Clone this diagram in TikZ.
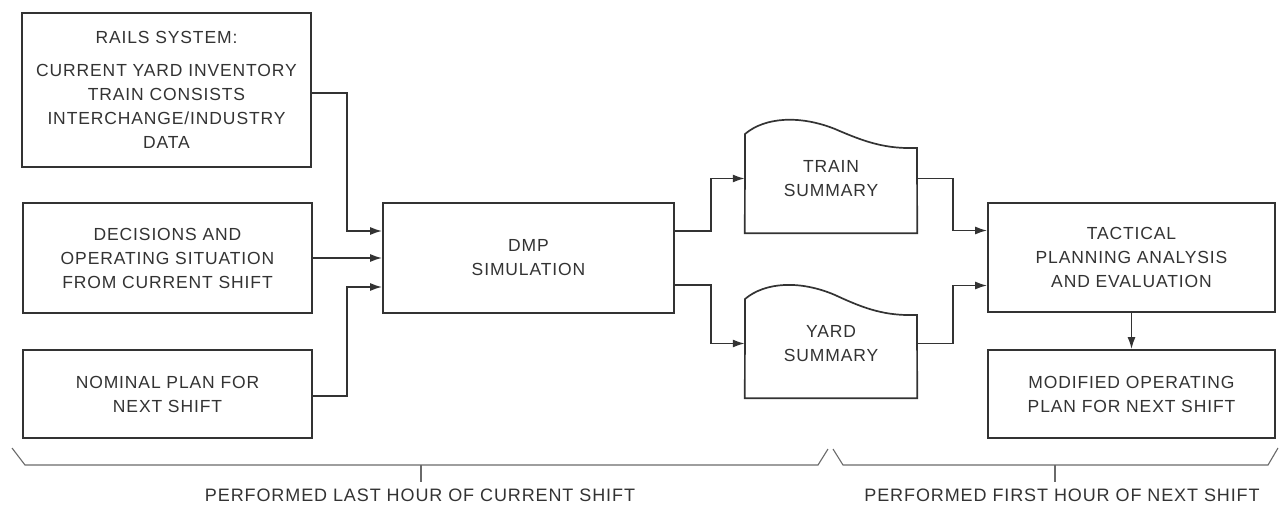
\documentclass[tikz,border=0pt]{standalone}
\usepackage{fontspec}
\setmainfont{Liberation Sans}[LetterSpace=5]
\usetikzlibrary{arrows.meta,calc}
\definecolor{ink}{HTML}{333333}
\definecolor{brace}{HTML}{6A6A6A}
\begin{document}
\begin{tikzpicture}[x=1pt,y=-1pt,
  lbl/.style={text=ink,font=\fontsize{17.5}{24}\selectfont,align=center},
  box/.style={lbl,draw=ink,line width=1.7pt,inner sep=0pt},
  doc/.style={lbl,inner sep=0pt,minimum width=172pt,minimum height=109pt},
  conn/.style={draw=ink,line width=1.7pt},
  arr/.style={conn,-{Latex[length=12pt,width=8pt]}},
  bracel/.style={draw=brace,line width=1.1pt},
  foot/.style={text=ink,font=\fontsize{18}{20}\selectfont}]
\useasboundingbox (0,0) rectangle (1281,504);
\fill[white] (0,0) rectangle (1281,504);

% left inputs
\node[box,minimum width=289pt,minimum height=154pt] (A) at (166.5,90)
  {RAILS SYSTEM:\\[9pt] CURRENT YARD INVENTORY\\ TRAIN CONSISTS\\ INTERCHANGE/INDUSTRY\\ DATA};
\node[box,minimum width=289pt,minimum height=110pt] (B) at (167.5,258)
  {DECISIONS AND\\ OPERATING SITUATION\\ FROM CURRENT SHIFT};
\node[box,minimum width=289pt,minimum height=88pt] (C) at (167.5,394)
  {NOMINAL PLAN FOR\\ NEXT SHIFT};

% simulation
\node[box,minimum width=291pt,minimum height=110pt] (D) at (528.5,258)
  {DMP\\ SIMULATION};

% summaries (document shapes)
\node[doc] (T) at (831,178.5) {TRAIN\\ SUMMARY};
\node[doc] (Y) at (831,343.5) {YARD\\ SUMMARY};
\draw[conn,line join=miter] (T.south west) -- (745,134)
  .. controls (765,117) and (800,115) .. (835,129)
  .. controls (865,142) and (885,149) .. (917,148) -- (T.south east) -- cycle;
\draw[conn,line join=miter] (Y.south west) -- (745,299)
  .. controls (765,282) and (800,280) .. (835,295)
  .. controls (865,309) and (885,316) .. (917,315) -- (Y.south east) -- cycle;

% right side
\node[box,minimum width=287pt,minimum height=109pt] (P) at (1131.5,257.5)
  {TACTICAL\\ PLANNING ANALYSIS\\ AND EVALUATION};
\node[box,minimum width=287pt,minimum height=88pt] (M) at (1131.5,394)
  {MODIFIED OPERATING\\ PLAN FOR NEXT SHIFT};

% connectors
\draw[arr] ($(A.east)+(0,3)$) -| ($(D.west)+(-35,-27)$) -- ($(D.west)+(0,-27)$);
\draw[arr] (B.east) -- (D.west);
\draw[arr] ($(C.east)+(0,2)$) -| ($(D.west)+(-35,29)$) -- ($(D.west)+(0,29)$);
\draw[arr] ($(D.east)+(0,-27)$) -- ++(36,0) |- (T.west);
\draw[arr] ($(D.east)+(0,27)$) -- ++(36,0) |- (Y.west);
\draw[arr] (T.east) -- ++(36,0) |- ($(P.west)+(0,-27)$);
\draw[arr] (Y.east) -- ++(36,0) |- ($(P.west)+(0,28)$);
\draw[arr] (P.south) -- (M.north);

% braces
\node[foot] (L1) at (420,495) {PERFORMED LAST HOUR OF CURRENT SHIFT};
\node[foot] (L2) at (1062,495) {PERFORMED FIRST HOUR OF NEXT SHIFT};
\draw[bracel] (12,448) -- (25,465) -- (818,465) -- (828,449);
\draw[bracel] (833,449) -- (843,465) -- (1268,465) -- (1278,448);
\coordinate (t1) at (421,465);
\coordinate (t2) at (1055,465);
\draw[bracel] (t1) -- ++(0,17);
\draw[bracel] (t2) -- ++(0,17);
\end{tikzpicture}
\end{document}
